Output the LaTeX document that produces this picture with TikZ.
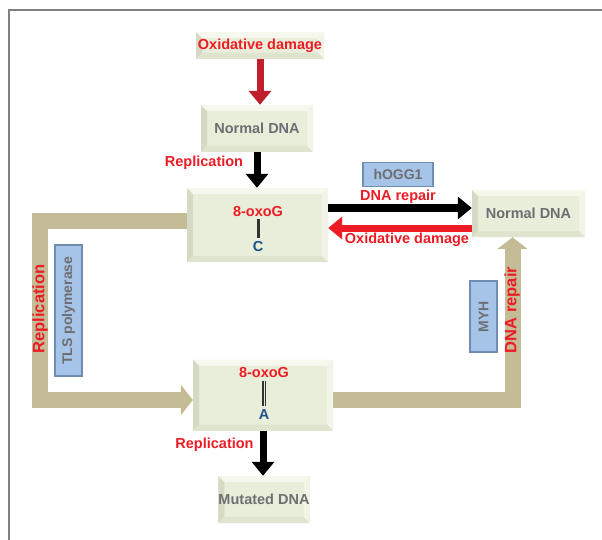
\documentclass[tikz,border=0pt]{standalone}
\usepackage{fontspec}
\setmainfont{Liberation Sans}
\usetikzlibrary{arrows.meta}

\definecolor{boxfill}{RGB}{233,238,218}
\definecolor{boxdark}{RGB}{212,218,196}
\definecolor{boxlight}{RGB}{246,248,238}
\definecolor{tanband}{RGB}{196,188,150}
\definecolor{lblred}{RGB}{237,28,36}
\definecolor{arrred}{RGB}{192,30,45}
\definecolor{enzfill}{RGB}{166,196,232}
\definecolor{enzdraw}{RGB}{112,140,178}
\definecolor{txtgray}{RGB}{109,110,113}
\definecolor{baseblue}{RGB}{30,80,140}
\definecolor{framegray}{RGB}{128,128,130}

\tikzset{x=1pt, y=-1pt,
    every node/.style={
        inner sep=0pt,
        font=\fontsize{14.5}{16}\selectfont\bfseries},
    bevel/.style={path picture={
        \coordinate (sw) at (path picture bounding box.south west);
        \coordinate (nw) at (path picture bounding box.north west);
        \coordinate (ne) at (path picture bounding box.north east);
        \coordinate (se) at (path picture bounding box.south east);
        \fill[boxdark] (sw) -- (nw) -- ([shift={(6pt,-6pt)}]nw) -- ([shift={(6pt,6pt)}]sw) -- cycle;
        \fill[boxdark!50!boxfill] (sw) -- (se) -- ([shift={(-6pt,6pt)}]se) -- ([shift={(6pt,6pt)}]sw) -- cycle;
        \fill[boxlight] (nw) -- (ne) -- ([shift={(-6pt,-6pt)}]ne) -- ([shift={(6pt,-6pt)}]nw) -- cycle;
        \fill[boxlight!60!boxfill] (ne) -- (se) -- ([shift={(-6pt,6pt)}]se) -- ([shift={(-6pt,-6pt)}]ne) -- cycle;}},
    dnabox/.style={
        fill=boxfill,
        text=txtgray,
        bevel},
    enzyme/.style={
        fill=enzfill,
        draw=enzdraw,
        line width=1.2pt,
        text=txtgray,
        font=\fontsize{14}{16}\selectfont\bfseries},
    redlabel/.style={text=lblred},
    bandlabel/.style={
        text=lblred,
        rotate=90,
        font=\fontsize{16.5}{18}\selectfont\bfseries},
    fatarrow/.style={
        line width=7pt,
        -{Triangle[width=22pt,length=14pt]}},
    band/.style={
        draw=tanband,
        line width=16pt,
        line join=miter,
        -{Triangle[width=30pt,length=12pt]}},
    pairbar/.style={
        draw=black!80,
        line width=3pt}}

\begin{document}
\begin{tikzpicture}
        \useasboundingbox (0,0) rectangle (602,540);
        \draw[framegray, line width=2.5pt] (9,540) -- (9,10) -- (602,10);

        \node[dnabox, minimum width=128pt, minimum height=27pt, text=lblred] (ox) at (260,45.5) {Oxidative damage};
        \node[dnabox, minimum width=112pt, minimum height=47pt] (n1) at (257,128.5) {Normal DNA};
        \node[redlabel] (rep1) at (204,163) {Replication};

        \node[dnabox, minimum width=141pt, minimum height=74pt] (b1) at (257.5,225) {};
        \node[redlabel] (o1) at (258,212) {8-oxoG};
        \node[text=baseblue] (c1) at (258,247) {C};
        \draw[pairbar] ([yshift=-2pt]o1.south) -- ([yshift=4pt]c1.north);

        \node[enzyme, minimum width=70pt, minimum height=24pt] (hogg) at (398,174.5) {hOGG1};
        \node[redlabel] (rep2) at (398,197) {DNA repair};
        \node[redlabel] (dmg) at (407,240) {Oxidative damage};
        \node[dnabox, minimum width=113pt, minimum height=47pt] (n2) at (528.5,213.5) {Normal DNA};

        \node[enzyme, rotate=90, minimum width=131pt, minimum height=27pt] (tls) at (68.5,310.5) {TLS polymerase};
        \node[enzyme, rotate=90, minimum width=71pt, minimum height=27pt] (myh) at (483.5,316.5) {MYH};

        \node[dnabox, minimum width=140pt, minimum height=71pt] (b2) at (263,395) {};
        \node[redlabel] (o2) at (264,373) {8-oxoG};
        \node[text=baseblue] (a2) at (264,415) {A};
        \draw[pairbar, line width=1.4pt, double=boxfill, double distance=1pt] ([yshift=-3pt]o2.south) -- ([yshift=4pt]a2.north);

        \node[redlabel] (rep3) at (214.5,445) {Replication};
        \node[dnabox, minimum width=90pt, minimum height=47pt] (mut) at (264,499.5) {Mutated DNA};

        % vertical steps
        \draw[fatarrow, arrred] (ox.south) -- (ox.south |- n1.north);
        \draw[fatarrow, black] (n1.south) -- (n1.south |- b1.north);
        \draw[fatarrow, black] (b2.south) -- (b2.south |- mut.north);

        % repair and damage between 8-oxoG:C and normal DNA
        \draw[fatarrow, black] ([yshift=17pt]b1.east) -- ([yshift=17pt]b1.east -| n2.west);
        \draw[fatarrow, lblred] ([yshift=-3pt]b1.east -| n2.west) -- ([yshift=-3pt]b1.east);

        % replication loop and MYH repair
        \draw[band] ([yshift=4pt]b1.west) -| (40,400) -- ([yshift=-5pt]b2.west);
        \draw[band] ([yshift=-5pt]b2.east) -| ([xshift=-16pt]n2.south);

        \node[bandlabel] (repL) at (40,309) {Replication};
        \node[bandlabel] (repR) at (512,310) {DNA repair};
    \end{tikzpicture}
\end{document}
